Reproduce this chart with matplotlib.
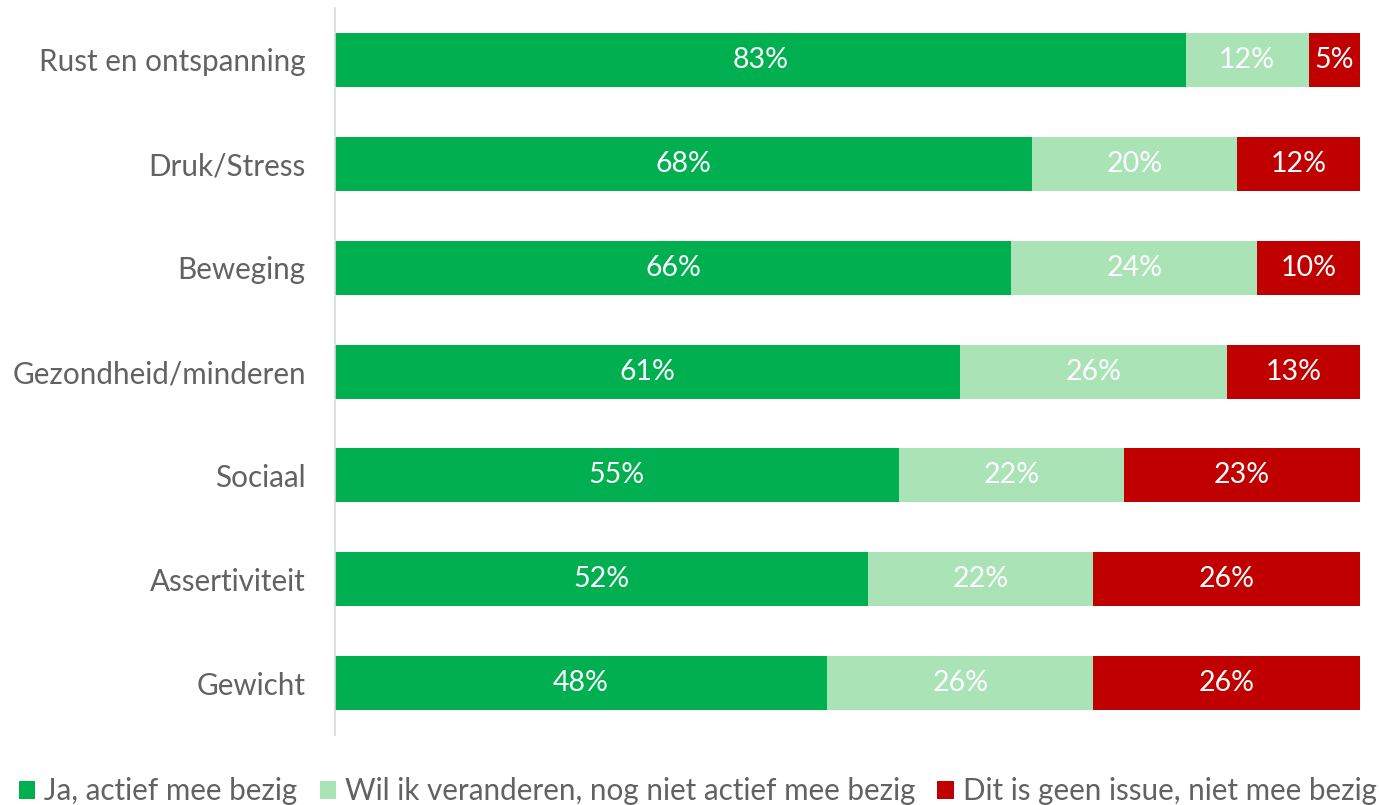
import matplotlib.pyplot as plt
from matplotlib.patches import Patch

categories = ["Rust en ontspanning", "Druk/Stress", "Beweging", "Gezondheid/minderen",
              "Sociaal", "Assertiviteit", "Gewicht"]
ja = [83, 68, 66, 61, 55, 52, 48]
wil = [12, 20, 24, 26, 22, 22, 26]
geen = [5, 12, 10, 13, 23, 26, 26]
series_names = ["Ja, actief mee bezig", "Wil ik veranderen, nog niet actief mee bezig",
                "Dit is geen issue, niet mee bezig"]
colors = ["#00B050", "#A9E3B6", "#C00000"]

plt.rcParams['font.family'] = ['Lato', 'DejaVu Sans']
text_color = '#626262'
fs = 21.3
fs_bar = 20.5

fig = plt.figure(figsize=(13.79, 8.05), dpi=100)
ax = fig.add_axes([0.2429, 0.087, 0.7433, 0.903])

y = list(range(len(categories)))
left = [0] * len(categories)
for vals, col in zip([ja, wil, geen], colors):
    bars = ax.barh(y, vals, left=left, color=col, height=0.52)
    for b, v in zip(bars, vals):
        ax.text(b.get_x() + b.get_width() / 2, b.get_y() + b.get_height() / 2,
                f"{v}%", ha='center', va='center', color='white', fontsize=fs_bar)
    left = [l + v for l, v in zip(left, vals)]

ax.set_xlim(0, 100)
ax.set_ylim(len(categories) - 0.5, -0.5)
ax.set_xticks([])
for s in ['top', 'right', 'bottom']:
    ax.spines[s].set_visible(False)
ax.spines['left'].set_color('#D9D9D9')
ax.spines['left'].set_linewidth(1.2)
ax.set_yticks(y)
ax.set_yticklabels(categories)
ax.tick_params(axis='y', length=0, pad=21, labelsize=fs, labelcolor=text_color)

handles = [Patch(facecolor=c, label=n) for c, n in zip(colors, series_names)]
fig.legend(handles=handles, loc='center', bbox_to_anchor=(0.506, 0.017), ncol=3,
           frameon=False, fontsize=fs, labelcolor=text_color, handlelength=0.55,
           handleheight=0.55, handletextpad=0.3, columnspacing=0.75,
           borderpad=0, borderaxespad=0)

fig.savefig('out.png', dpi=100)
